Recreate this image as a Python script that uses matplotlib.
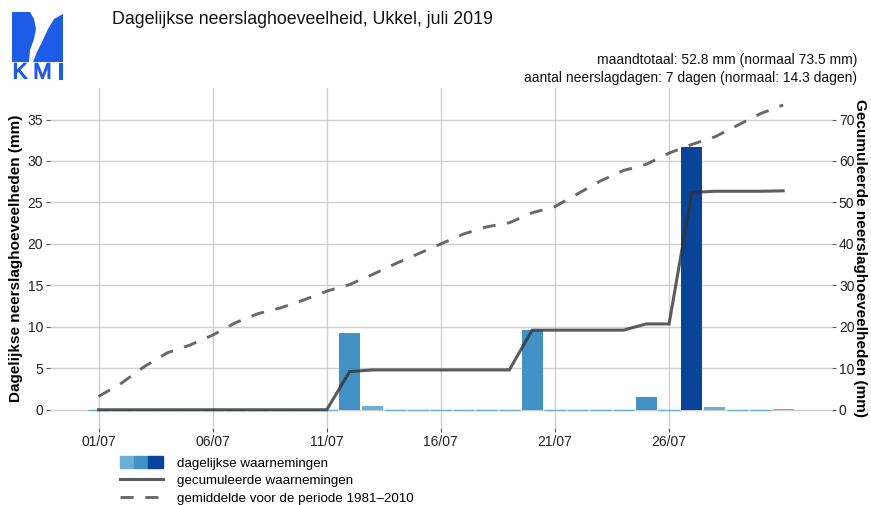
import matplotlib
matplotlib.use("Agg")
import matplotlib.pyplot as plt
import matplotlib.patheffects as pe
from matplotlib.patches import Patch, Polygon
from matplotlib.lines import Line2D
from matplotlib.legend_handler import HandlerTuple

plt.rcParams["font.family"] = ["Liberation Sans", "DejaVu Sans"]

# dagen van juli 2019
dagen = list(range(1, 32))
neerslag = [0, 0, 0, 0, 0, 0, 0, 0, 0, 0, 0,
            9.2, 0.4, 0, 0, 0, 0, 0, 0, 9.6, 0, 0, 0, 0,
            1.5, 0, 31.7, 0.3, 0, 0, 0.1]
# gemiddelde gecumuleerde neerslag 1981-2010 (mm)
normaal = [3.2, 6.4, 10.4, 13.7, 15.6, 18.0, 21.0, 23.2, 24.6, 26.5, 28.6,
           30.2, 32.6, 35.2, 37.6, 40.0, 42.4, 44.1, 45.1, 47.5, 49.0,
           52.1, 55.2, 57.7, 59.2, 61.9, 64.0, 65.8, 68.6, 71.4, 73.5]

tick_dagen = [1, 6, 11, 16, 21, 26]
tick_labels = ["01/07", "06/07", "11/07", "16/07", "21/07", "26/07"]

titel = "Dagelijkse neerslaghoeveelheid, Ukkel, juli 2019"
info1 = "maandtotaal: 52.8 mm (normaal 73.5 mm)"
info2 = "aantal neerslagdagen: 7 dagen (normaal: 14.3 dagen)"

licht, midden, donker = "#6BAED6", "#4292C6", "#08449A"
blauw_logo = "#1E5BE6"

# gecumuleerde waarnemingen
gecumuleerd = []
som = 0
for v in neerslag:
    som += v
    gecumuleerd.append(round(som, 1))

kleuren = [licht if v < 1 else (midden if v < 20 else donker) for v in neerslag]
randen = [1.0 if v == 0 else 0 for v in neerslag]

fig = plt.figure(figsize=(8.71, 5.05), dpi=100)

ax = fig.add_axes([0.0574, 0.1525, 0.8978, 0.6732])
ax.bar(dagen, neerslag, width=0.93, color=kleuren, edgecolor=kleuren,
       linewidth=randen, zorder=2)
ax.set_xlim(-1.13, 33.14)
ax.set_ylim(-2.2, 38.8)
ax.set_yticks(range(0, 36, 5))
ax.set_xticks(tick_dagen)
ax.set_xticklabels(tick_labels)
ax.set_axisbelow(True)
ax.grid(True, color="#cfcfcf", lw=1)

ax2 = ax.twinx()
ax2.set_ylim(-4.4, 77.6)
ax2.set_yticks(range(0, 71, 10))
ax2.plot(dagen, gecumuleerd, color="#333333", alpha=0.8, lw=2.2,
         solid_joinstyle="miter")
ax2.plot(dagen, normaal, color="#444444", alpha=0.8, lw=2.1,
         ls=(0, (4.5, 4)))

for a in (ax, ax2):
    for s in a.spines.values():
        s.set_visible(False)
    a.tick_params(length=3, color="#555555", labelsize=10,
                  labelcolor="#222222", pad=2, width=0.8)

ax.set_ylabel("Dagelijkse neerslaghoeveelheden (mm)", fontsize=11,
              fontweight="bold", va="center")
ax.yaxis.set_label_coords((16 - 50) / 782, 0.5)
ax2.set_ylabel("Gecumuleerde neerslaghoeveelheden (mm)", fontsize=11,
               fontweight="bold", rotation=-90, va="center")
ax2.yaxis.set_label_coords((860 - 50) / 782, 0.5)

fig.text(112 / 871, 1 - 20 / 505, titel, fontsize=12.8, va="center",
         color="#111111")
fig.text(857 / 871, 1 - 60 / 505, info1, fontsize=10, ha="right",
         va="center", color="#111111")
fig.text(857 / 871, 1 - 78 / 505, info2, fontsize=10, ha="right",
         va="center", color="#111111")

# legenda
h_bar = (Patch(color=licht), Patch(color=midden), Patch(color=donker))
h_cum = Line2D([], [], color="#333333", alpha=0.8, lw=2.2)
h_norm = Line2D([], [], color="#444444", alpha=0.8, lw=2.1, ls=(0, (4.5, 4)))
fig.legend([h_bar, h_cum, h_norm],
           ["dagelijkse waarnemingen", "gecumuleerde waarnemingen",
            "gemiddelde voor de periode 1981\u20132010"],
           handler_map={tuple: HandlerTuple(ndivide=None, pad=0)},
           loc="upper left", bbox_to_anchor=(120 / 871, 1 - 456 / 505),
           frameon=False, fontsize=9.6, handlelength=3.2, handleheight=1.05,
           handletextpad=1.1, labelspacing=0.3, borderpad=0, borderaxespad=0)

# logo
lg = fig.add_axes([0, 0, 1, 1], zorder=-1)
lg.set_xlim(0, 871)
lg.set_ylim(505, 0)
lg.axis("off")
links = [(12, 12), (30, 12), (34, 19), (36, 29), (34, 39), (30, 50),
         (29, 62), (12, 62)]
rechts = [(63, 14), (63, 62), (33, 62), (37, 52), (43, 40), (48, 29),
          (54, 19)]
lg.add_patch(Polygon(links, closed=True, color=blauw_logo, lw=0))
lg.add_patch(Polygon(rechts, closed=True, color=blauw_logo, lw=0))
for letter, xl in zip("KMI", (20, 42.5, 60.5)):
    lg.text(xl, 73, letter, color=blauw_logo, fontsize=16, ha="center",
            va="center",
            path_effects=[pe.withStroke(linewidth=0.8, foreground=blauw_logo)])

fig.savefig("out.png", dpi=100)
